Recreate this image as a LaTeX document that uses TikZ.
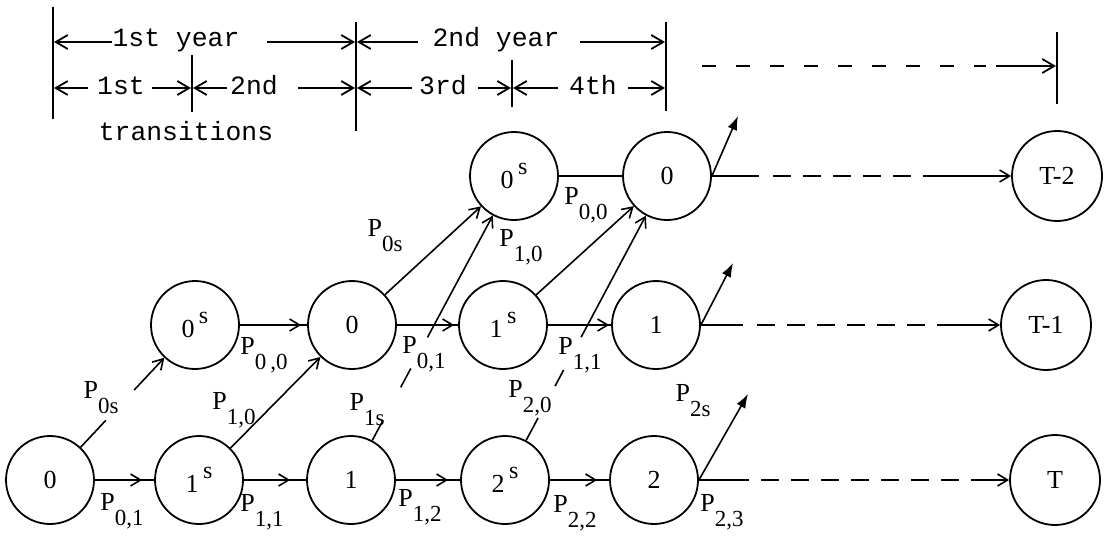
\documentclass[tikz,border=0pt]{standalone}
\usepackage{fontspec}
\setmainfont{Liberation Serif}
\newfontfamily\hdfont{Liberation Mono}
\usetikzlibrary{arrows.meta,calc,decorations.markings}
\newcommand{\Pp}[1]{P\raisebox{-7.5pt}{\fontsize{11.5}{13}\selectfont #1}}
\newcommand{\sS}{\,\raisebox{7pt}{\fontsize{12}{14}\selectfont s}}
\begin{document}
\begin{tikzpicture}[x=0.5pt,y=-0.5pt,
  st/.style={circle,draw,line width=0.9pt,minimum size=44pt,inner sep=0pt,font=\fontsize{13}{15}\selectfont},
  lab/.style={inner sep=0pt,font=\fontsize{13}{15}\selectfont},
  hd/.style={inner sep=0pt,anchor=base,font=\hdfont\fontsize{13.2}{15}\selectfont},
  ln/.style={line width=0.8pt},
  bar/.style={line width=0.9pt},
  harr/.style={line width=0.9pt,-{Straight Barb[length=6pt,width=7pt]}},
  midarr/.style={ln, postaction=decorate, decoration={markings, mark=at position #1 with {\arrow{Straight Barb[length=5pt,width=6pt]}}}},
  midarr/.default=-6pt,
  endarr/.style={ln,-{Straight Barb[length=5pt,width=6pt]}},
  outarr/.style={ln,-{Latex[length=7pt,width=5pt]}},
  dsh/.style={ln,dash pattern=on 9pt off 6pt},
]
\useasboundingbox (0,0) rectangle (1111,535);

% ---- header ----
\draw[bar] (53,7) -- (53,119);
\draw[bar] (192,55) -- (192,112);
\draw[bar] (356,22) -- (356,131);
\draw[bar] (512,60) -- (512,107);
\draw[bar] (666,22) -- (666,111);
\draw[bar] (1057,32) -- (1057,104);

\node[hd] (y1) at (176,47) {1st year};
\node[hd] (y2) at (496,47) {2nd year};
\node[hd] (t1) at (121,95) {1st};
\node[hd] (t2) at (254,95) {2nd};
\node[hd] (t3) at (443,95) {3rd};
\node[hd] (t4) at (593,95) {4th};
\node[hd] (tr) at (186,140) {transitions};

\draw[harr] (112,42) -- (54,42);
\draw[harr] (267,42) -- (355,42);
\draw[harr] (418,42) -- (357,42);
\draw[harr] (580,42) -- (665,42);
\draw[harr] (88,88) -- (54,88);
\draw[harr] (152,88) -- (191,88);
\draw[harr] (227,88) -- (193,88);
\draw[harr] (298,88) -- (355,88);
\draw[harr] (412,88) -- (357,88);
\draw[harr] (478,88) -- (511,88);
\draw[harr] (558,88) -- (513,88);
\draw[harr] (628,88) -- (665,88);
\draw[ln,dash pattern=on 7pt off 10pt] (702,66) -- (986,66);
\draw[harr] (996,66) -- (1056,66);

% ---- nodes ----
\node[st] (A0) at (50,480) {0};
\node[st] (B1) at (199,480) {1\sS};
\node[st] (C1) at (351,480) {1};
\node[st] (D2) at (505,480) {2\sS};
\node[st] (E2) at (654,480) {2};
\node[st,minimum size=45pt] (T0) at (1055,480) {T};

\node[st] (S0m) at (195,325) {0\sS};
\node[st] (O0m) at (352,325) {0};
\node[st] (S1m) at (503,325) {1\sS};
\node[st] (O1m) at (656,325) {1};
\node[st,minimum size=45pt] (T1) at (1046,325) {T-1};

\node[st] (S0t) at (514,176) {0\sS};
\node[st] (O0t) at (667,176) {0};
\node[st,minimum size=45pt] (T2) at (1057,176) {T-2};

% ---- horizontal transitions ----
\draw[midarr] (A0) -- (B1);
\draw[midarr=-8pt] (B1) -- (C1);
\draw[midarr] (C1) -- (D2);
\draw[midarr] (D2) -- (E2);
\draw[midarr=-3pt] (S0m) -- (O0m);
\draw[midarr=-2pt] (O0m) -- (S1m);
\draw[midarr=-1pt] (S1m) -- (O1m);
\draw[ln] (S0t) -- (O0t);

% ---- diagonal transitions ----
\draw[ln] (A0) -- ($(A0)!0.385!(S0m)$);
\draw[endarr] ($(A0)!0.58!(S0m)$) -- (S0m);
\draw[endarr] (B1) -- (O0m);
\draw[endarr] (O0m) -- (S0t);
\draw[endarr] (S1m) -- (O0t);

\draw[ln] (C1) -- ($(C1)!0.197!(S0t)$);
\draw[ln] ($(C1)!0.305!(S0t)$) -- ($(C1)!0.367!(S0t)$);
\draw[endarr] ($(C1)!0.469!(S0t)$) -- (S0t);

\draw[ln] (D2) -- ($(D2)!0.204!(O0t)$);
\draw[ln] ($(D2)!0.309!(O0t)$) -- ($(D2)!0.362!(O0t)$);
\draw[endarr] ($(D2)!0.47!(O0t)$) -- (O0t);

% ---- exits ----
\coordinate (u0) at (738,116);
\coordinate (u1) at (733,263);
\coordinate (u2) at (748,394);
\draw[outarr] (O0t.east) -- (u0);
\draw[outarr] (O1m.east) -- (u1);
\draw[outarr] (E2.east) -- (u2);

% ---- dashed continuations ----
\draw[ln] (O0t.east) -- ($(O0t.east)+(47,0)$);
\draw[dsh] ($(O0t.east)+(61,0)$) -- ($(O0t.east)+(199,0)$);
\draw[endarr] ($(O0t.east)+(211,0)$) -- (T2);

\draw[ln] (O1m.east) -- ($(O1m.east)+(42,0)$);
\draw[dsh] ($(O1m.east)+(56,0)$) -- ($(O1m.east)+(224,0)$);
\draw[endarr] ($(O1m.east)+(236,0)$) -- (T1);

\draw[ln] (E2.east) -- ($(E2.east)+(50,0)$);
\draw[dsh] ($(E2.east)+(62,0)$) -- ($(E2.east)+(260,0)$);
\draw[endarr] ($(E2.east)+(272,0)$) -- (T0);

% ---- labels ----
\node[lab] (l1) at (101,398) {\Pp{0s}};
\node[lab] (l2) at (122,511) {\Pp{0,1}};
\node[lab] (l3) at (264,355) {\Pp{0\,,0}};
\node[lab] (l4) at (234,410) {\Pp{1,0}};
\node[lab] (l5) at (262,512) {\Pp{1,1}};
\node[lab] (l6) at (367,410) {\Pp{1s}};
\node[lab] (l7) at (424,354) {\Pp{0,1}};
\node[lab] (l8) at (385,236) {\Pp{0s}};
\node[lab] (l9) at (521,247) {\Pp{1,0}};
\node[lab] (l10) at (586,205) {\Pp{0,0}};
\node[lab] (l11) at (580,355) {\Pp{1,1}};
\node[lab] (l12) at (530,398) {\Pp{2,0}};
\node[lab] (l13) at (420,507) {\Pp{1,2}};
\node[lab] (l14) at (575,513) {\Pp{2,2}};
\node[lab] (l15) at (693,401) {\Pp{2s}};
\node[lab] (l16) at (722,512) {\Pp{2,3}};
\end{tikzpicture}
\end{document}
